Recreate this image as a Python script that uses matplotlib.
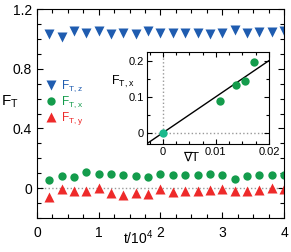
import numpy as np
import matplotlib
matplotlib.use('Agg')
import matplotlib.pyplot as plt
from matplotlib.ticker import MultipleLocator, FuncFormatter

plt.rcParams['font.family'] = ['Liberation Sans', 'DejaVu Sans']
plt.rcParams['mathtext.fontset'] = 'custom'
plt.rcParams['mathtext.rm'] = 'Liberation Sans'

# main panel data (t in units of 1e4)
t = [0.2, 0.4, 0.6, 0.8, 1.0, 1.2, 1.4, 1.6, 1.8, 2.0,
     2.2, 2.4, 2.6, 2.8, 3.0, 3.2, 3.4, 3.6, 3.8, 4.0]
F_z = [1.03, 1.01, 1.05, 1.04, 1.055, 1.035, 1.04, 1.035, 1.05, 1.04,
       1.04, 1.04, 1.04, 1.03, 1.04, 1.06, 1.04, 1.045, 1.045, 1.05]
F_x = [0.053, 0.08, 0.073, 0.107, 0.093, 0.093, 0.087, 0.083, 0.073, 0.093,
       0.087, 0.087, 0.087, 0.093, 0.087, 0.062, 0.078, 0.087, 0.09, 0.09]
F_y = [-0.06, -0.007, -0.02, -0.02, 0.002, -0.035, -0.047, -0.035, -0.04, -0.009,
       -0.025, -0.02, -0.02, -0.013, -0.009, -0.02, -0.02, -0.013, -0.002, -0.007]

# inset data
gradT = [0.0, 0.0107, 0.01385, 0.01556, 0.0172]
F_x_in = [0.0, 0.089, 0.1325, 0.144, 0.197]
fit_x = [-0.003, 0.02]
slope = 10.0

blue = '#1f5cb0'
green = '#149c4c'
red = '#ee2a2a'
teal = '#1bb98c'

fmt = FuncFormatter(lambda v, p: '%g' % round(v, 4))

fig = plt.figure(figsize=(2.91, 2.52), dpi=100)
ax = fig.add_axes([0.127, 0.135, 0.849, 0.829])

ax.axhline(0, color='#999999', ls=':', lw=1, zorder=0)
ax.plot(t, F_z, 'v', color=blue, ms=6.5, mec='none', label=r'$\mathrm{F_{T,z}}$')
ax.plot(t, F_x, 'o', color=green, ms=6, mec='none', label=r'$\mathrm{F_{T,x}}$')
ax.plot(t, F_y, '^', color=red, ms=6.5, mec='none', label=r'$\mathrm{F_{T,y}}$')

ax.set_xlim(0, 4)
ax.set_ylim(-0.2, 1.2)
ax.xaxis.set_major_locator(MultipleLocator(1))
ax.xaxis.set_minor_locator(MultipleLocator(0.25))
ax.yaxis.set_major_locator(MultipleLocator(0.4))
ax.yaxis.set_minor_locator(MultipleLocator(0.1))
ax.xaxis.set_major_formatter(fmt)
ax.yaxis.set_major_formatter(fmt)
ax.tick_params(which='both', direction='in', top=True, right=True, labelsize=10)
ax.tick_params(which='major', length=4, width=0.8)
ax.tick_params(which='minor', length=3, width=0.8)
ax.tick_params(axis='x', pad=6)

leg = ax.legend(loc='upper left', bbox_to_anchor=(0.0, 0.695), frameon=False,
                fontsize=8.5, handletextpad=0.1, labelspacing=0.0, borderpad=0,
                labelcolor='linecolor', handlelength=1.4)

fig.text(0.035, 0.595, r'$\mathrm{F_T}$', fontsize=11, va='center', ha='center')
fig.text(0.475, 0.055, r'$\mathrm{t/10^4}$', fontsize=10, va='center', ha='center')

# inset
ins = fig.add_axes([0.505, 0.4286, 0.419, 0.365])
ins.axvline(0, color='#999999', ls=':', lw=1, zorder=0)
ins.axhline(0, color='#999999', ls=':', lw=1, zorder=0)
ins.plot(fit_x, [slope * v for v in fit_x], color='black', lw=1)
ins.plot(gradT[1:], F_x_in[1:], 'o', color=green, ms=6, mec='none', zorder=3)
ins.plot(gradT[:1], F_x_in[:1], 'o', color=teal, ms=6, mec='none', zorder=3)
ins.set_xlim(-0.003, 0.02)
ins.set_ylim(-0.031, 0.224)
ins.xaxis.set_major_locator(MultipleLocator(0.01))
ins.xaxis.set_minor_locator(MultipleLocator(0.0025))
ins.yaxis.set_major_locator(MultipleLocator(0.1))
ins.yaxis.set_minor_locator(MultipleLocator(0.05))
ins.xaxis.set_major_formatter(fmt)
ins.yaxis.set_major_formatter(fmt)
ins.tick_params(which='both', direction='in', top=True, right=True, labelsize=8, pad=2)
ins.tick_params(which='major', length=3.5, width=0.8)
ins.tick_params(which='minor', length=2, width=0.8)

fig.text(0.423, 0.675, r'$\mathrm{F_{T,x}}$', fontsize=9, va='center', ha='center')
fig.text(0.655, 0.372, '\u2207T', fontsize=9, va='center', ha='center')

fig.savefig('out.png', dpi=100)
